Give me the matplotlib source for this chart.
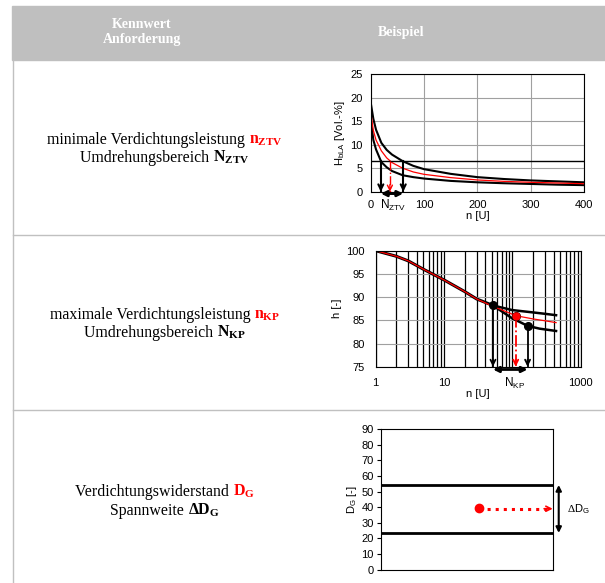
import matplotlib
matplotlib.use('Agg')
import matplotlib.pyplot as plt
from matplotlib.patches import Rectangle
from matplotlib.lines import Line2D

plt.rcParams['font.family'] = ['Liberation Sans', 'DejaVu Sans']
plt.rcParams['mathtext.fontset'] = 'custom'
plt.rcParams['mathtext.rm'] = 'Liberation Serif'
plt.rcParams['mathtext.bf'] = 'Liberation Serif:bold'
plt.rcParams['mathtext.sf'] = 'Liberation Sans'

# --- chart 1: Hohlraumgehalt over Umdrehungen
n1 = [0, 5, 10, 20, 30, 40, 60, 80, 100, 150, 200, 250, 300, 350, 400]
h_upper = [19.0, 15.5, 13.2, 10.4, 8.9, 7.9, 6.5, 5.5, 4.8, 3.8, 3.1, 2.7, 2.4, 2.2, 2.0]
h_mid = [17.0, 13.0, 11.0, 8.7, 7.2, 6.2, 5.0, 4.2, 3.7, 3.0, 2.5, 2.2, 2.0, 1.85, 1.7]
h_lower = [15.5, 11.0, 9.0, 6.3, 5.2, 4.4, 3.5, 3.1, 2.8, 2.3, 2.0, 1.8, 1.65, 1.5, 1.4]
h_limit = 6.5
n_ztv = [19, 36, 61]  # lower, mean, upper

# --- chart 2: Verdichtungsgrad over Umdrehungen (log)
n2_common = [1, 2, 3, 5, 10, 20, 30, 52]
k_common = [100, 98.8, 97.8, 96.0, 93.7, 91.2, 89.6, 88.2]
n2_upper = [52, 100, 200, 300, 436]
k_upper = [88.2, 87.2, 86.7, 86.4, 86.1]
n2_lower = [52, 100, 130, 167, 250, 436]
k_lower = [88.2, 85.4, 84.6, 83.8, 83.2, 82.7]
n2_red = [1, 2, 3, 5, 10, 20, 30, 52, 80, 112, 200, 300, 436]
k_red = [100, 98.8, 97.8, 96.0, 93.7, 91.2, 89.6, 88.0, 86.9, 86.0, 85.3, 84.9, 84.5]
n_kp = [52, 112, 167]
k_kp = [88.2, 86.0, 83.8]

# --- chart 3: Verdichtungswiderstand
dg_upper = 54.2
dg_lower = 23.5
dg_value = 39.5

W, H = 605, 583
fig = plt.figure(figsize=(W / 100, H / 100), dpi=100)


def fx(px):
    return px / W


def fy(py):
    return 1 - py / H


# table frame
fig.patches.append(Rectangle((fx(12), fy(60)), 1 - fx(12), fy(6) - fy(60),
                             transform=fig.transFigure, color='#bfbfbf', zorder=0))
grey = '#c0c0c0'
fig.lines.append(Line2D([fx(13), fx(13)], [fy(60), 0], transform=fig.transFigure, color=grey, lw=1))
for yy in [235, 410]:
    fig.lines.append(Line2D([fx(13), 1], [fy(yy), fy(yy)], transform=fig.transFigure, color=grey, lw=1))

hdr = dict(color='white', fontweight='bold', family='Liberation Serif', fontsize=10, ha='center', va='baseline')
fig.text(fx(142), fy(28), 'Kennwert', **hdr)
fig.text(fx(142), fy(43), 'Anforderung', **hdr)
fig.text(fx(401), fy(36), 'Beispiel', **hdr)

renderer = fig.canvas.get_renderer()


def mixed_line(xc, y, parts):
    texts = [fig.text(0, fy(y), s, color=c, fontsize=11.4, family='Liberation Serif', va='baseline')
             for s, c in parts]
    widths = [t.get_window_extent(renderer).width for t in texts]
    x = xc - sum(widths) / 2
    for t, w in zip(texts, widths):
        t.set_x(fx(x))
        x += w


red = '#ff0000'
mixed_line(165, 144, [('minimale Verdichtungsleistung ', 'black'), (r'$\mathbf{n_{ZTV}}$', red)])
mixed_line(165, 162, [('Umdrehungsbereich ', 'black'), (r'$\mathbf{N_{ZTV}}$', 'black')])
mixed_line(165, 319, [('maximale Verdichtungsleistung ', 'black'), (r'$\mathbf{n_{KP}}$', red)])
mixed_line(165, 337, [('Umdrehungsbereich ', 'black'), (r'$\mathbf{N_{KP}}$', 'black')])
mixed_line(165, 496, [('Verdichtungswiderstand ', 'black'), (r'$\mathbf{D_{G}}$', red)])
mixed_line(165, 515, [('Spannweite ', 'black'), (r'$\mathbf{\Delta D_{G}}$', 'black')])

fs = 8


def down_arrow(ax, x, y0, y1, color, ls, lw, head):
    # shaft drawn as a line, solid open head at the bottom
    ax.plot([x, x], [y0, y1], color=color, lw=lw, ls=ls)
    ax.annotate('', xy=(x, y1), xytext=(x, y1 + head),
                arrowprops=dict(arrowstyle='->', color=color, lw=lw, shrinkA=0, shrinkB=0,
                                mutation_scale=9))


# chart 1
ax1 = fig.add_axes([fx(370.7), fy(191.7), fx(584) - fx(370.7), fy(74.3) - fy(191.7)])
ax1.set_xlim(0, 400)
ax1.set_ylim(0, 25)
ax1.set_xticks([0, 100, 200, 300, 400])
ax1.set_yticks([0, 5, 10, 15, 20, 25])
ax1.grid(True, color='#a0a0a0', lw=0.8)
ax1.tick_params(length=0, labelsize=fs, pad=6)
ax1.plot(n1, h_upper, color='k', lw=1.5)
ax1.plot(n1, h_lower, color='k', lw=1.5)
ax1.plot(n1, h_mid, color=red, lw=0.9)
ax1.axhline(h_limit, color='k', lw=1)
for n, c, ls, lw in zip(n_ztv, ['k', red, 'k'], ['-', '-.', '-'], [1.5, 1, 1.5]):
    down_arrow(ax1, n, h_limit, 0, c, ls, lw, 1.5)
ax1.annotate('', xy=(n_ztv[0], -0.4), xytext=(n_ztv[2], -0.4), annotation_clip=False,
             arrowprops=dict(arrowstyle='<|-|>', color='k', lw=2, shrinkA=0, shrinkB=0, mutation_scale=8))
ax1.text(n_ztv[1] + 5, -1.3, r'N$_{\mathsf{ZTV}}$', ha='center', va='top', fontsize=fs + 0.5, clip_on=False)
ax1.set_xlabel('n [U]', fontsize=fs, labelpad=1)
ax1.set_ylabel(r'H$_{\mathsf{bLA}}$ [Vol.-%]', fontsize=fs, labelpad=2)

# chart 2
ax2 = fig.add_axes([fx(375.7), fy(366.7), fx(580.7) - fx(375.7), fy(250.7) - fy(366.7)])
ax2.set_xscale('log')
ax2.set_xlim(1, 1000)
ax2.set_ylim(75, 100)
ax2.set_yticks([75, 80, 85, 90, 95, 100])
ax2.set_xticks([1, 10, 100, 1000])
ax2.set_xticklabels(['1', '10', '', '1000'])
ax2.grid(True, which='both', axis='x', color='k', lw=0.9)
ax2.grid(True, axis='y', color='#a0a0a0', lw=0.8)
ax2.tick_params(which='both', length=0, labelsize=fs, pad=8)
ax2.plot(n2_common, k_common, color='k', lw=2.2)
ax2.plot(n2_upper, k_upper, color='k', lw=1.8)
ax2.plot(n2_lower, k_lower, color='k', lw=1.8)
ax2.plot(n2_red, k_red, color=red, lw=0.9)
for n, k, c, ls in zip(n_kp, k_kp, ['k', red, 'k'], ['-', '-.', '-']):
    down_arrow(ax2, n, k, 75, c, ls, 1.3, 1.5)
ax2.plot(n_kp, k_kp, 'o', color='k', ms=5.5, zorder=5)
ax2.plot(n_kp[1], k_kp[1], 'o', color=red, ms=5, zorder=6)
ax2.annotate('', xy=(n_kp[0], 74.4), xytext=(n_kp[2], 74.4), annotation_clip=False,
             arrowprops=dict(arrowstyle='<|-|>', color='k', lw=2, shrinkA=0, shrinkB=0, mutation_scale=8))
ax2.text(n_kp[1] - 4, 73.0, r'N$_{\mathsf{KP}}$', ha='center', va='top', fontsize=fs + 0.5, clip_on=False)
ax2.set_xlabel('n [U]', fontsize=fs, labelpad=1)
ax2.set_ylabel('h [-]', fontsize=fs, labelpad=3)

# chart 3
ax3 = fig.add_axes([fx(380.7), fy(569.7), fx(552.7) - fx(380.7), fy(429) - fy(569.7)])
ax3.set_xlim(0, 1)
ax3.set_ylim(0, 90)
ax3.set_yticks(range(0, 91, 10))
ax3.set_xticks([])
ax3.tick_params(length=3, labelsize=fs, pad=2)
ax3.axhline(dg_upper, color='k', lw=2)
ax3.axhline(dg_lower, color='k', lw=2)
ax3.plot([0.57, 0.99], [dg_value - 0.5] * 2, color=red, lw=2.2, ls=':')
ax3.annotate('', xy=(1.0, dg_value - 0.5), xytext=(0.95, dg_value - 0.5),
             arrowprops=dict(arrowstyle='->', color=red, lw=1.2, shrinkA=0, shrinkB=0, mutation_scale=9))
ax3.plot(0.57, dg_value, 'o', color=red, ms=6, zorder=5)
ax3.annotate('', xy=(1.035, dg_upper), xytext=(1.035, dg_lower), annotation_clip=False,
             arrowprops=dict(arrowstyle='<|-|>', color='k', lw=1.5, shrinkA=0, shrinkB=0, mutation_scale=8))
ax3.text(1.085, dg_value - 1, r'$\Delta$D$_{\mathsf{G}}$', fontsize=fs, va='center', ha='left', clip_on=False)
ax3.set_ylabel(r'D$_{\mathsf{G}}$ [-]', fontsize=fs, labelpad=2)

fig.savefig('out.png', dpi=100)
